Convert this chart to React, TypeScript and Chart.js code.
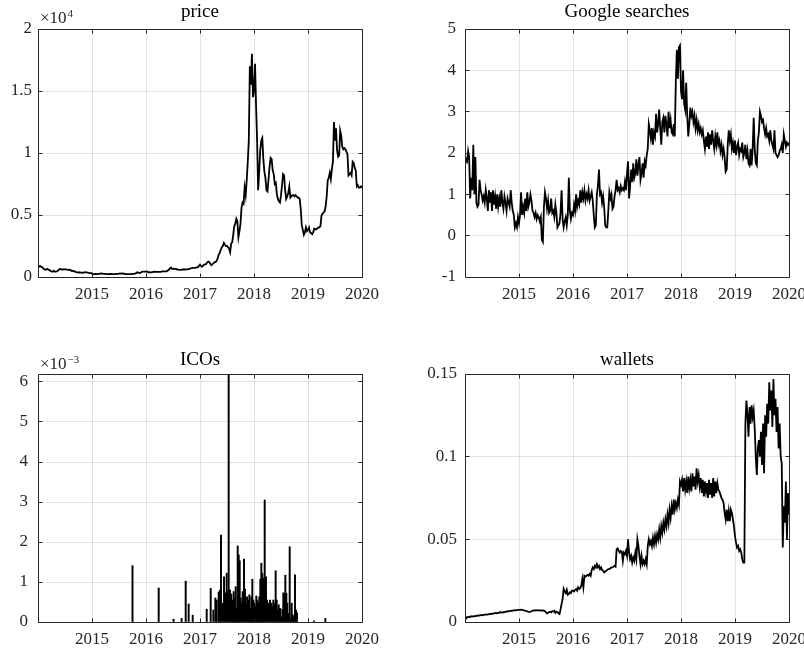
import React, { useEffect, useRef } from 'react';
import { Chart, registerables } from 'chart.js';

Chart.register(...registerables);

const FONT = "'Liberation Serif', 'Times New Roman', serif";
const AXIS = '#262626';
const GRID = 'rgba(38,38,38,0.13)';

const X_MIN = 2014;
const X_MAX = 2020;
const yearTicks = [2015, 2016, 2017, 2018, 2019, 2020];

const priceYTicks = [0, 5000, 10000, 15000, 20000];
const priceYLabels = ['0', '0.5', '1', '1.5', '2'];
const googleYTicks = [-1, 0, 1, 2, 3, 4, 5];
const googleYLabels = ['-1', '0', '1', '2', '3', '4', '5'];
const icoYTicks = [0, 0.001, 0.002, 0.003, 0.004, 0.005, 0.006];
const icoYLabels = ['0', '1', '2', '3', '4', '5', '6'];
const walletYTicks = [0, 0.05, 0.1, 0.15];
const walletYLabels = ['0', '0.05', '0.1', '0.15'];

// weekly bitcoin price, USD (2014 .. 2019)
const price2014 = [850, 830, 900, 820, 800, 700, 620, 580, 620, 640, 600, 580, 480, 450, 430, 500, 440, 440, 450, 500, 580, 650, 640, 600, 590, 630, 620, 620, 590, 580, 590, 570, 500, 510, 480, 470, 420, 400, 380, 350, 380, 360, 350, 330, 360, 390, 380, 370, 350, 330, 320, 310];
const price2015 = [300, 220, 230, 250, 230, 240, 250, 255, 275, 290, 270, 250, 245, 255, 235, 225, 230, 240, 240, 240, 235, 230, 235, 245, 250, 260, 270, 290, 280, 285, 280, 265, 230, 225, 235, 230, 235, 235, 240, 245, 250, 265, 290, 360, 380, 330, 320, 360, 420, 440, 430, 430];
const price2016 = [430, 450, 380, 390, 370, 380, 400, 420, 435, 410, 415, 415, 415, 420, 420, 430, 450, 450, 455, 455, 450, 530, 580, 700, 760, 650, 670, 650, 660, 655, 600, 590, 575, 580, 575, 610, 605, 610, 605, 610, 615, 640, 650, 700, 710, 740, 740, 735, 760, 780, 800, 900];
const price2017 = [1000, 900, 830, 920, 1000, 1010, 1050, 1180, 1250, 1200, 1050, 950, 1040, 1100, 1200, 1200, 1300, 1500, 1800, 1950, 2200, 2400, 2500, 2750, 2600, 2500, 2500, 2400, 2300, 2000, 2700, 2800, 3400, 4100, 4300, 4700, 4500, 3200, 3700, 4300, 5600, 6000, 5900, 7200, 6600, 7800, 9300, 11000, 17000, 15500, 18000, 14500];
const price2018 = [15000, 17200, 13800, 11000, 7000, 8500, 10200, 11000, 11200, 9500, 8500, 8000, 7000, 6900, 7900, 8900, 9600, 9500, 8600, 8300, 7500, 7600, 6700, 6300, 6100, 6000, 6600, 7400, 8300, 8200, 7000, 6300, 6500, 6800, 7300, 6400, 6500, 6600, 6600, 6500, 6600, 6500, 6400, 6400, 6300, 5500, 4200, 3800, 3400, 3600, 4000, 3700];
const price2019 = [3800, 4000, 3600, 3550, 3450, 3600, 3900, 3850, 3850, 3900, 4000, 4000, 4100, 4950, 5100, 5200, 5300, 5700, 6500, 7800, 8000, 8400, 7900, 8700, 9300, 12500, 11000, 12000, 10200, 9700, 9800, 11800, 11400, 10500, 10300, 10400, 10300, 10100, 9900, 8200, 8300, 8400, 8200, 9300, 9200, 8800, 8600, 7300, 7400, 7200, 7200, 7300, 7200];

// weekly Google searches (standardised)
const google2014 = [1.7, 1.85, 1.8, 2.05, 1.9, 0.9, 1.4, 1.1, 2.2, 1.0, 1.9, 0.8, 0.7, 0.75, 1.35, 1.1, 1.0, 0.85, 0.95, 0.8, 1.1, 0.9, 0.6, 1.1, 0.8, 1.05, 0.6, 1.1, 0.75, 0.95, 0.65, 1.0, 0.7, 0.9, 0.7, 1.1, 0.8, 0.65, 0.95, 0.8, 0.6, 0.9, 0.8, 0.7, 1.1, 0.8, 0.6, 0.5, 0.2, 0.3, 0.2, 0.45];
const google2015 = [0.3, 0.5, 1.05, 0.5, 0.7, 0.55, 0.9, 0.6, 1.05, 0.7, 0.8, 1.0, 0.85, 0.6, 0.55, 0.45, 0.55, 0.4, 0.5, 0.45, 0.35, 0.45, -0.1, -0.15, 0.7, 1.05, 0.9, 0.65, 0.85, 0.55, 0.6, 0.9, 0.55, 0.6, 0.45, 0.75, 0.55, 0.2, 0.25, 0.3, 0.55, 1.1, 0.4, 0.2, 0.35, 0.45, 0.25, 0.5, 1.4, 0.6, 0.4, 0.55];
const google2016 = [0.5, 0.75, 0.6, 1.0, 0.7, 0.85, 0.75, 1.1, 0.8, 1.05, 0.9, 1.1, 0.85, 1.0, 0.9, 1.1, 0.85, 0.95, 1.05, 0.85, 0.5, 0.2, 0.25, 1.0, 1.2, 1.6, 1.0, 1.05, 0.8, 0.95, 0.7, 0.25, 0.2, 0.2, 0.6, 1.05, 0.9, 1.0, 0.65, 0.7, 0.95, 1.1, 1.35, 1.1, 1.15, 1.05, 1.2, 1.1, 1.15, 1.1, 1.3, 1.1];
const google2017 = [1.5, 1.8, 0.9, 1.2, 1.6, 1.3, 1.75, 1.4, 1.5, 1.85, 1.45, 1.7, 1.9, 1.35, 1.5, 1.75, 1.4, 1.8, 1.7, 1.95, 2.1, 2.7, 2.55, 2.35, 2.6, 2.2, 2.5, 2.4, 2.95, 2.5, 2.7, 3.05, 2.6, 2.2, 2.75, 2.85, 2.5, 2.9, 2.7, 2.4, 3.0, 2.6, 2.8, 2.5, 2.45, 2.7, 2.4, 3.7, 4.5, 3.8, 4.55, 4.6];
const google2018 = [3.5, 3.3, 4.0, 3.2, 3.05, 3.7, 2.9, 2.4, 2.7, 3.1, 2.9, 3.0, 2.75, 2.9, 2.6, 2.8, 2.55, 2.7, 2.5, 2.6, 2.45, 2.55, 2.3, 2.1, 2.4, 2.15, 2.5, 2.1, 2.45, 2.2, 2.55, 2.3, 2.1, 2.4, 2.2, 2.5, 2.2, 2.3, 2.05, 2.2, 1.95, 2.1, 1.9, 1.55, 1.6, 2.2, 2.55, 2.3, 2.45, 2.1, 2.25, 2.0];
const google2019 = [2.3, 1.95, 2.15, 2.25, 1.95, 2.1, 2.05, 2.25, 1.9, 2.0, 2.2, 1.85, 2.05, 1.75, 1.7, 2.1, 1.7, 2.1, 2.85, 2.1, 1.75, 1.7, 2.3, 2.5, 3.0, 2.9, 2.75, 2.8, 2.6, 2.45, 2.6, 2.4, 2.45, 2.3, 2.55, 2.3, 2.2, 2.1, 2.55, 2.0, 1.95, 1.9, 1.95, 2.05, 2.1, 2.2, 2.0, 2.45, 2.3, 2.15, 2.25, 2.2, 2.25];

// weekly wallets
const wallets2014 = [0.0015, 0.002, 0.003, 0.0028, 0.0032, 0.003, 0.0035, 0.0033, 0.0035, 0.0034, 0.0036, 0.0038, 0.0037, 0.004, 0.0039, 0.0041, 0.0042, 0.0041, 0.0043, 0.0044, 0.0045, 0.0046, 0.0045, 0.0047, 0.0048, 0.005, 0.0049, 0.0051, 0.0052, 0.0055, 0.0053, 0.0054, 0.0056, 0.0055, 0.006, 0.0058, 0.0057, 0.0059, 0.006, 0.0062, 0.0063, 0.0065, 0.0064, 0.0066, 0.0068, 0.0067, 0.0069, 0.007, 0.0071, 0.007, 0.0072, 0.0073];
const wallets2015 = [0.0073, 0.0074, 0.0075, 0.0073, 0.0072, 0.007, 0.0068, 0.0066, 0.0064, 0.0062, 0.006, 0.0062, 0.0065, 0.0068, 0.007, 0.0069, 0.0071, 0.007, 0.0072, 0.0069, 0.007, 0.0071, 0.0068, 0.007, 0.0069, 0.0066, 0.0058, 0.0052, 0.0056, 0.006, 0.0062, 0.0058, 0.0065, 0.0063, 0.0068, 0.0055, 0.0062, 0.006, 0.0052, 0.0048, 0.0075, 0.011, 0.014, 0.02, 0.0185, 0.0175, 0.0195, 0.0165, 0.017, 0.018, 0.0175, 0.019];
const wallets2016 = [0.019, 0.0185, 0.0195, 0.02, 0.019, 0.021, 0.02, 0.0205, 0.022, 0.026, 0.021, 0.028, 0.0275, 0.028, 0.0285, 0.028, 0.029, 0.028, 0.0315, 0.033, 0.032, 0.034, 0.033, 0.035, 0.033, 0.034, 0.032, 0.033, 0.0315, 0.031, 0.03, 0.0305, 0.031, 0.0315, 0.032, 0.032, 0.0325, 0.033, 0.033, 0.0335, 0.034, 0.0335, 0.044, 0.0445, 0.043, 0.042, 0.043, 0.0425, 0.037, 0.042, 0.041, 0.043];
const wallets2017 = [0.04, 0.05, 0.042, 0.038, 0.04, 0.036, 0.039, 0.037, 0.042, 0.038, 0.05, 0.046, 0.04, 0.035, 0.04, 0.035, 0.037, 0.035, 0.038, 0.035, 0.046, 0.05, 0.047, 0.049, 0.046, 0.051, 0.047, 0.052, 0.048, 0.053, 0.05, 0.056, 0.051, 0.058, 0.054, 0.06, 0.056, 0.062, 0.058, 0.065, 0.06, 0.068, 0.063, 0.07, 0.065, 0.074, 0.068, 0.072, 0.069, 0.074, 0.071, 0.085];
const wallets2018 = [0.083, 0.086, 0.079, 0.087, 0.08, 0.085, 0.078, 0.088, 0.081, 0.086, 0.079, 0.09, 0.082, 0.088, 0.08, 0.093, 0.085, 0.089, 0.082, 0.087, 0.078, 0.086, 0.076, 0.085, 0.079, 0.084, 0.075, 0.086, 0.077, 0.084, 0.075, 0.087, 0.076, 0.085, 0.078, 0.084, 0.08, 0.079, 0.077, 0.075, 0.074, 0.072, 0.066, 0.062, 0.068, 0.061, 0.067, 0.061, 0.068, 0.066, 0.062, 0.058];
const wallets2019 = [0.052, 0.048, 0.045, 0.046, 0.043, 0.044, 0.042, 0.038, 0.036, 0.036, 0.12, 0.134, 0.125, 0.112, 0.13, 0.12, 0.131, 0.124, 0.128, 0.117, 0.1, 0.089, 0.105, 0.11, 0.1, 0.115, 0.095, 0.12, 0.09, 0.125, 0.112, 0.132, 0.12, 0.145, 0.128, 0.14, 0.118, 0.147, 0.125, 0.135, 0.115, 0.13, 0.105, 0.12, 0.1, 0.096, 0.045, 0.07, 0.06, 0.085, 0.05, 0.078, 0.065];

// ICO events: date (decimal year) and value (x 10^-3)
const icoDates = [2015.75, 2016.235, 2016.51, 2016.66, 2016.735, 2016.79, 2016.865, 2017.124, 2017.198, 2017.247, 2017.284, 2017.309, 2017.346, 2017.371, 2017.389, 2017.42, 2017.445, 2017.469, 2017.494, 2017.513, 2017.531, 2017.556, 2017.58, 2017.605, 2017.624, 2017.642, 2017.661, 2017.679, 2017.698, 2017.716, 2017.735, 2017.753, 2017.772, 2017.79, 2017.815, 2017.833, 2017.852, 2017.871, 2017.895, 2017.914, 2017.932, 2017.951, 2017.969, 2017.988, 2018.006, 2018.025, 2018.043, 2018.062, 2018.08, 2018.099, 2018.117, 2018.136, 2018.154, 2018.173, 2018.198, 2018.222, 2018.241, 2018.259, 2018.278, 2018.296, 2018.321, 2018.34, 2018.358, 2018.377, 2018.401, 2018.42, 2018.438, 2018.457, 2018.482, 2018.5, 2018.525, 2018.543, 2018.562, 2018.58, 2018.599, 2018.617, 2018.642, 2018.661, 2018.679, 2018.698, 2018.716, 2018.735, 2018.759, 2018.778, 2018.796, 2019.111, 2019.321];
const icoValues = [1.41, 0.85, 0.07, 0.09, 1.02, 0.45, 0.17, 0.32, 0.84, 0.3, 0.6, 0.55, 0.75, 0.8, 2.17, 0.47, 1.13, 0.73, 1.22, 0.76, 6.2, 0.8, 0.7, 0.55, 0.76, 0.6, 0.88, 0.34, 1.9, 1.68, 1.53, 0.6, 0.47, 0.76, 1.57, 0.82, 0.47, 0.63, 0.55, 0.68, 0.33, 0.63, 1.07, 0.55, 0.47, 0.38, 0.65, 0.55, 0.47, 0.63, 1.07, 1.47, 1.22, 1.1, 3.05, 1.13, 0.55, 0.47, 0.3, 0.55, 0.47, 0.38, 0.55, 0.47, 1.28, 0.55, 0.3, 0.43, 0.34, 0.13, 0.32, 0.73, 0.7, 1.17, 0.72, 0.47, 0.22, 1.88, 0.09, 0.47, 0.18, 0.13, 1.18, 0.3, 0.23, 0.03, 0.09];

type Pt = { x: number; y: number };

function weekly(values: number[]): Pt[] {
  const n = values.length;
  return values.map((v, i) => ({ x: X_MIN + ((X_MAX - X_MIN) * i) / (n - 1), y: v }));
}

const priceSeries = weekly([...price2014, ...price2015, ...price2016, ...price2017, ...price2018, ...price2019]);
const googleSeries = weekly([...google2014, ...google2015, ...google2016, ...google2017, ...google2018, ...google2019]);
const walletSeries = weekly([...wallets2014, ...wallets2015, ...wallets2016, ...wallets2017, ...wallets2018, ...wallets2019]);
const icoSeries: Pt[] = icoDates.map((d, i) => ({ x: d, y: icoValues[i] * 1e-3 }));

interface PanelSpec {
  left: number;
  top: number;
  width: number;
  height: number;
  area: { l: number; t: number; r: number; b: number };
  title: string;
  titleBaseline: number;
  exponent?: { sup: string; baseline: number; supBaseline: number };
  yTicks: number[];
  yLabels: string[];
  yMin: number;
  yMax: number;
  yPad: number;
  kind: 'line' | 'bar';
  data: Pt[];
}

const align = (v: number) => Math.round(v - 0.5) + 0.5;

function buildConfig(p: PanelSpec): any {
  const frame = {
    id: 'matlabFrame',
    afterDraw(chart: any) {
      const { ctx, chartArea: a, scales } = chart;
      ctx.save();
      const L = align(a.left);
      const R = align(a.right);
      const T = align(a.top);
      const B = align(a.bottom);
      ctx.strokeStyle = AXIS;
      ctx.lineWidth = 1;
      ctx.beginPath();
      ctx.rect(L, T, R - L, B - T);
      const TL = 4;
      scales.x.ticks.forEach((t: any) => {
        const x = align(scales.x.getPixelForValue(t.value));
        ctx.moveTo(x, T);
        ctx.lineTo(x, T + TL);
        ctx.moveTo(x, B);
        ctx.lineTo(x, B - TL);
      });
      scales.y.ticks.forEach((t: any) => {
        const y = align(scales.y.getPixelForValue(t.value));
        ctx.moveTo(L, y);
        ctx.lineTo(L + TL, y);
        ctx.moveTo(R, y);
        ctx.lineTo(R - TL, y);
      });
      ctx.stroke();

      ctx.fillStyle = '#000';
      ctx.font = `19px ${FONT}`;
      ctx.textAlign = 'center';
      ctx.textBaseline = 'alphabetic';
      ctx.fillText(p.title, (a.left + a.right) / 2, p.titleBaseline);

      if (p.exponent) {
        ctx.fillStyle = AXIS;
        ctx.textAlign = 'left';
        ctx.font = `17px ${FONT}`;
        const base = '\u00d710';
        const x0 = a.left + 2;
        ctx.fillText(base, x0, p.exponent.baseline);
        const w = ctx.measureText(base).width;
        ctx.font = `11px ${FONT}`;
        ctx.fillText(p.exponent.sup, x0 + w + 1, p.exponent.supBaseline);
      }
      ctx.restore();
    },
  };

  const dataset =
    p.kind === 'line'
      ? {
          data: p.data,
          borderColor: '#000',
          borderWidth: 1.8,
          pointRadius: 0,
          tension: 0,
          fill: false,
        }
      : {
          data: p.data,
          backgroundColor: '#000',
          borderWidth: 0,
          barThickness: 1.3,
        };

  const tickFont = { family: FONT, size: 17 };

  return {
    type: p.kind,
    data: { datasets: [dataset] },
    plugins: [frame],
    options: {
      responsive: false,
      animation: false,
      events: [],
      layout: { padding: { left: 0, top: p.area.t, right: p.width - p.area.r, bottom: 0 } },
      plugins: {
        legend: { display: false },
        tooltip: { enabled: false },
        title: { display: false },
      },
      scales: {
        x: {
          type: 'linear',
          min: X_MIN,
          max: X_MAX,
          offset: false,
          grid: { color: GRID, lineWidth: 1, drawTicks: false, offset: false },
          border: { display: false },
          ticks: {
            autoSkip: false,
            maxRotation: 0,
            padding: 7,
            color: AXIS,
            font: tickFont,
            callback: (v: any) => String(v),
          },
          afterBuildTicks: (s: any) => {
            s.ticks = yearTicks.map((v) => ({ value: v }));
          },
          afterFit: (s: any) => {
            s.height = p.height - p.area.b;
            s.paddingLeft = 0;
            s.paddingRight = 0;
          },
        },
        y: {
          type: 'linear',
          min: p.yMin,
          max: p.yMax,
          grid: { color: GRID, lineWidth: 1, drawTicks: false },
          border: { display: false },
          ticks: {
            autoSkip: false,
            padding: p.yPad,
            color: AXIS,
            font: tickFont,
            callback: (_v: any, i: number) => p.yLabels[i],
          },
          afterBuildTicks: (s: any) => {
            s.ticks = p.yTicks.map((v) => ({ value: v }));
          },
          afterFit: (s: any) => {
            s.width = p.area.l;
            s.paddingTop = 0;
            s.paddingBottom = 0;
          },
        },
      },
    },
  };
}

const panels: PanelSpec[] = [
  {
    left: 0, top: 0, width: 402, height: 324,
    area: { l: 38, t: 29, r: 362, b: 277 },
    title: 'price', titleBaseline: 17,
    exponent: { sup: '4', baseline: 23, supBaseline: 17 },
    yTicks: priceYTicks, yLabels: priceYLabels, yMin: 0, yMax: 20000, yPad: 6,
    kind: 'line', data: priceSeries,
  },
  {
    left: 402, top: 0, width: 402, height: 324,
    area: { l: 63, t: 29, r: 387, b: 277 },
    title: 'Google searches', titleBaseline: 17,
    yTicks: googleYTicks, yLabels: googleYLabels, yMin: -1, yMax: 5, yPad: 9,
    kind: 'line', data: googleSeries,
  },
  {
    left: 0, top: 324, width: 402, height: 325,
    area: { l: 38, t: 50, r: 362, b: 298 },
    title: 'ICOs', titleBaseline: 41,
    exponent: { sup: '\u22123', baseline: 45, supBaseline: 39 },
    yTicks: icoYTicks, yLabels: icoYLabels, yMin: 0, yMax: 0.0062, yPad: 10,
    kind: 'bar', data: icoSeries,
  },
  {
    left: 402, top: 324, width: 402, height: 325,
    area: { l: 63, t: 50, r: 387, b: 298 },
    title: 'wallets', titleBaseline: 41,
    yTicks: walletYTicks, yLabels: walletYLabels, yMin: 0, yMax: 0.15, yPad: 8,
    kind: 'line', data: walletSeries,
  },
];

function Panel({ spec }: { spec: PanelSpec }) {
  const ref = useRef<HTMLCanvasElement>(null);
  useEffect(() => {
    if (!ref.current) return;
    const chart = new Chart(ref.current, buildConfig(spec));
    return () => chart.destroy();
  }, [spec]);
  return (
    <canvas
      ref={ref}
      width={spec.width}
      height={spec.height}
      style={{ position: 'absolute', left: spec.left, top: spec.top, width: spec.width, height: spec.height }}
    />
  );
}

export default function App() {
  return (
    <div
      style={{
        position: 'fixed',
        left: 0,
        top: 0,
        width: 804,
        height: 649,
        overflow: 'hidden',
        background: '#fff',
      }}
    >
      {panels.map((p, i) => (
        <Panel key={i} spec={p} />
      ))}
    </div>
  );
}
